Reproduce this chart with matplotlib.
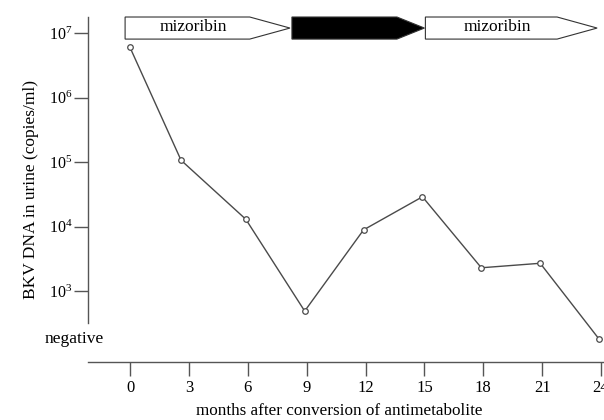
import matplotlib.pyplot as plt
import matplotlib.transforms as mtransforms

plt.rcParams['font.family'] = ['Liberation Serif', 'DejaVu Serif']
plt.rcParams['mathtext.fontset'] = 'custom'
plt.rcParams['mathtext.rm'] = 'Liberation Serif'

# data
months = [0, 2.6, 5.9, 8.9, 11.9, 14.9, 17.9, 20.9, 23.9]
neg_level = 180  # where "negative" sits on the log axis
bkv_copies = [6.0e6, 1.07e5, 1.3e4, 490, 8.9e3, 2.9e4, 2.3e3, 2.7e3, neg_level]
x_ticks = [0, 3, 6, 9, 12, 15, 18, 21, 24]
y_ticks = [1e3, 1e4, 1e5, 1e6, 1e7]
y_tick_labels = [r'$\mathregular{10^3}$', r'$\mathregular{10^4}$', r'$\mathregular{10^5}$',
                 r'$\mathregular{10^6}$', r'$\mathregular{10^7}$']

# treatment phases (start, body end, tip, label, fill)
phase_start = [-0.25, 8.25, 15.05]
phase_body_end = [6.1, 13.6, 21.76]
phase_tip = [8.15, 15.0, 23.8]
phase_label = ['mizoribin', '', 'mizoribin']
phase_color = ['white', 'black', 'white']

fig = plt.figure(figsize=(6.04, 4.2), dpi=100)
ax = fig.add_axes([0.1457, 0.138, 0.8543, 0.8215])

ax.plot(months, bkv_copies, color='#4a4a4a', lw=1.0, marker='o', ms=4.0,
        mfc='white', mec='#4a4a4a', mew=0.9, clip_on=False, zorder=3)

ax.set_yscale('log')
ax.set_ylim(10 ** 1.9, 10 ** 7.25)
ax.set_xlim(-2.14, 24.15)

ax.set_yticks(y_ticks)
ax.set_yticklabels(y_tick_labels, fontsize=11.5)
ax.yaxis.set_minor_locator(plt.NullLocator())
ax.set_xticks(x_ticks)
ax.set_xticklabels([str(t) for t in x_ticks], fontsize=12)

for s in ['top', 'right']:
    ax.spines[s].set_visible(False)
for s in ['left', 'bottom']:
    ax.spines[s].set_color('#555555')
    ax.spines[s].set_linewidth(1.0)
ax.spines['left'].set_bounds(10 ** 2.5, 10 ** 7.25)

ax.tick_params(axis='y', direction='out', length=10, width=1.0, color='#555555', pad=1)
ax.tick_params(axis='x', direction='out', length=10, width=1.0, color='#555555', pad=3)

ax.text(-0.027, neg_level, 'negative', transform=mtransforms.blended_transform_factory(ax.transAxes, ax.transData),
        ha='center', va='center', fontsize=12.5)

ax.set_ylabel('BKV DNA in urine (copies/ml)', fontsize=12.5, labelpad=7)
ax.set_xlabel('months after conversion of antimetabolite', fontsize=12.3)
ax.xaxis.set_label_coords(0.486, -0.119)

# phase arrows along the top
trans = mtransforms.blended_transform_factory(ax.transData, ax.transAxes)
y_lo, y_hi = 0.936, 1.0
for x0, xb, xt, lab, col in zip(phase_start, phase_body_end, phase_tip, phase_label, phase_color):
    xs = [x0, xb, xt, xb, x0, x0]
    ys = [y_hi, y_hi, (y_lo + y_hi) / 2, y_lo, y_lo, y_hi]
    ax.fill(xs, ys, facecolor=col, edgecolor='#333333', lw=0.8, transform=trans, clip_on=False, zorder=4)
    if lab:
        ax.text((x0 + xb) / 2 + 0.3, (y_lo + y_hi) / 2 + 0.004, lab, transform=trans,
                ha='center', va='center', fontsize=12.5, zorder=5)

fig.savefig('out.png', dpi=100)
